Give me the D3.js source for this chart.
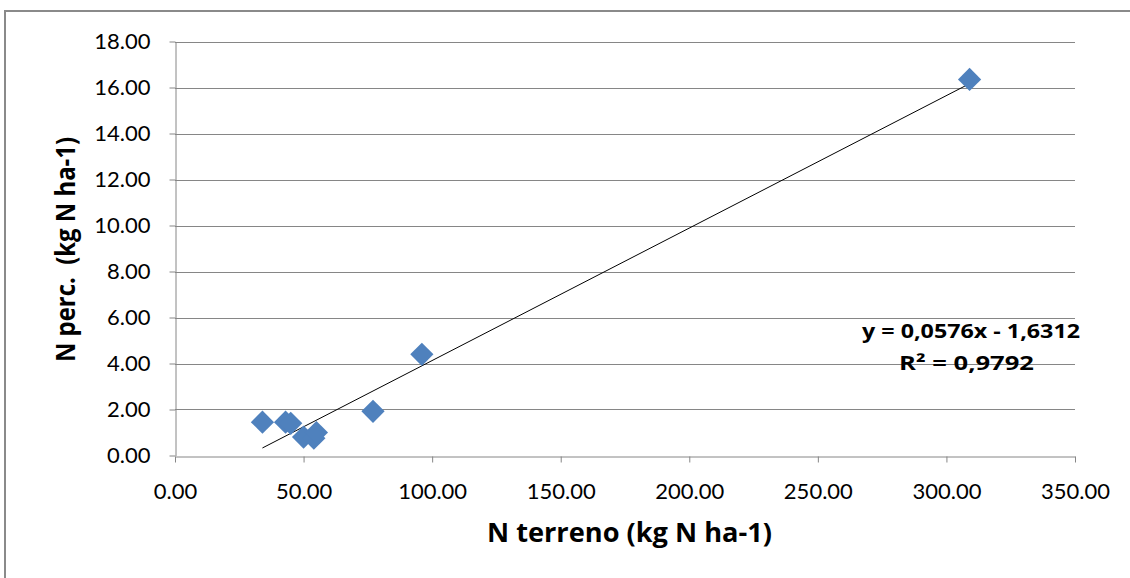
<!DOCTYPE html>
<html>
<head>
<meta charset="utf-8">
<script src="https://cdn.jsdelivr.net/npm/d3@7"></script>
<style>
  body { margin: 0; background: #fff; }
  text { font-family: "Open Sans", Lato, sans-serif; }
</style>
</head>
<body>
<script>
// dati
const nTerreno = [34, 43, 45, 50, 54, 55, 77, 96, 309];
const nPerc    = [1.45, 1.45, 1.4, 0.8, 0.75, 1.0, 1.92, 4.4, 16.35];
const xTicks = [0, 50, 100, 150, 200, 250, 300, 350];
const yTicks = [0, 2, 4, 6, 8, 10, 12, 14, 16, 18];
const slope = 0.0576, intercept = -1.6312;
const eqText = 'y = 0,0576x - 1,6312';
const r2Text = 'R² = 0,9792';

const svg = d3.select('body')
    .append('svg')
    .attr('width', 1130)
    .attr('height', 578);

// cornice del grafico (esce dall'immagine a destra e in basso)
svg.append('rect')
    .attr('x', 5).attr('y', 11)
    .attr('width', 1300).attr('height', 700)
    .attr('fill', 'none')
    .attr('stroke', '#8a8a8a')
    .attr('stroke-width', 2);

const x = d3.scaleLinear().domain([0, 350]).range([175, 1075]);
const y = d3.scaleLinear().domain([0, 18]).range([455.5, 41.5]);

// griglia orizzontale
svg.append('g')
    .selectAll('line')
    .data(yTicks.filter(d => d > 0))
    .enter().append('line')
    .attr('x1', x(0)).attr('x2', x(350))
    .attr('y1', d => Math.round(y(d)) + 0.5)
    .attr('y2', d => Math.round(y(d)) + 0.5)
    .attr('stroke', '#868686');

// asse x
const xAxis = svg.append('g')
    .attr('transform', 'translate(0,' + (Math.round(y(0)) + 0.5) + ')')
    .call(d3.axisBottom(x).tickValues(xTicks).tickFormat(d3.format('.2f')).tickSizeOuter(0).tickSizeInner(6).tickPadding(21));

// asse y
const yAxis = svg.append('g')
    .attr('transform', 'translate(' + (Math.round(x(0)) + 0.5) + ',0)')
    .call(d3.axisLeft(y).tickValues(yTicks).tickFormat(d3.format('.2f')).tickSizeOuter(0).tickSizeInner(6).tickPadding(19));

[xAxis, yAxis].forEach(a => {
    a.select('.domain').attr('stroke', '#868686');
    a.selectAll('.tick line').attr('stroke', '#868686');
    a.selectAll('.tick text')
        .attr('fill', '#000')
        .style('font-family', 'Lato, sans-serif')
        .style('font-size', '22px');
});

// linea di tendenza
const xr = d3.extent(nTerreno);
svg.append('line')
    .attr('x1', x(xr[0])).attr('y1', y(slope * xr[0] + intercept))
    .attr('x2', x(xr[1])).attr('y2', y(slope * xr[1] + intercept))
    .attr('stroke', '#000')
    .attr('stroke-width', 1);

// punti a rombo
const diamond = d3.symbol().type(d3.symbolSquare).size(270);
svg.append('g')
    .selectAll('path')
    .data(nTerreno.map((v, i) => ({ x: v, y: nPerc[i] })))
    .enter().append('path')
    .attr('d', diamond)
    .attr('transform', d => 'translate(' + x(d.x) + ',' + y(d.y) + ') rotate(45)')
    .attr('fill', '#4f81bd');

// equazione
svg.append('text')
    .attr('x', 862).attr('y', 338)
    .attr('textLength', 218).attr('lengthAdjust', 'spacingAndGlyphs')
    .style('font-size', '20px').style('font-weight', 'bold')
    .text(eqText);
svg.append('text')
    .attr('x', 899).attr('y', 370)
    .attr('textLength', 135).attr('lengthAdjust', 'spacingAndGlyphs')
    .style('font-size', '20px').style('font-weight', 'bold')
    .text(r2Text);

// titoli assi
svg.append('text')
    .attr('x', 75).attr('y', 362)
    .attr('transform', 'rotate(-90,75,362)')
    .attr('textLength', 225).attr('lengthAdjust', 'spacingAndGlyphs')
    .style('font-size', '26px').style('font-weight', 'bold')
    .style('white-space', 'pre')
    .text('N perc.  (kg N ha-1)');

svg.append('text')
    .attr('x', 487).attr('y', 542)
    .attr('textLength', 285).attr('lengthAdjust', 'spacingAndGlyphs')
    .style('font-size', '26px').style('font-weight', 'bold')
    .text('N terreno (kg N ha-1)');
</script>
</body>
</html>
